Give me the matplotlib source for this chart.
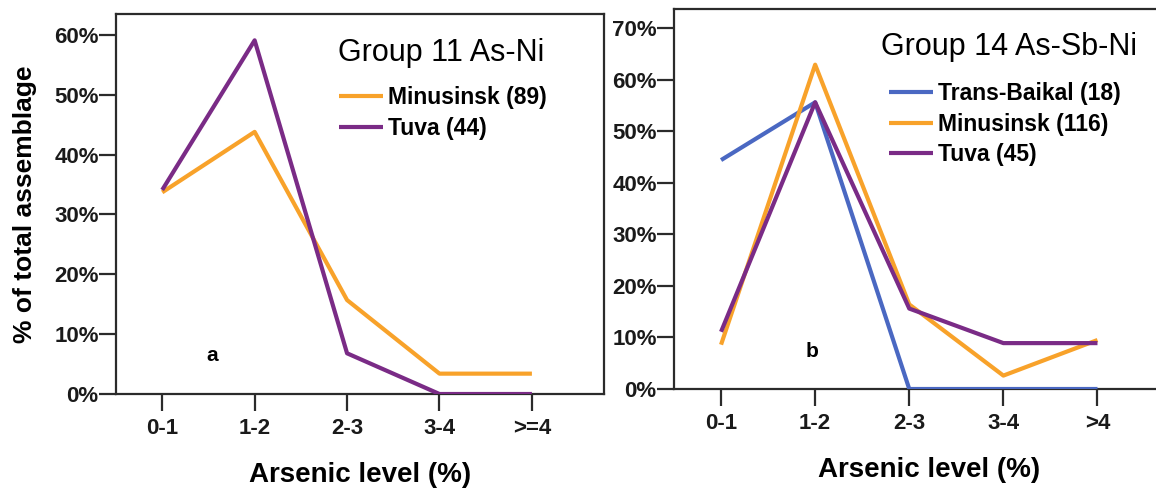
import numpy as np
import matplotlib as mpl
mpl.use('Agg')
from matplotlib import pyplot as plt
from matplotlib.ticker import FuncFormatter

# данные читаются с картинки
levels_a = ['0-1', '1-2', '2-3', '3-4', '>=4']
levels_b = ['0-1', '1-2', '2-3', '3-4', '>4']

minusinsk_a = [33.7, 43.8, 15.7, 3.4, 3.4]
tuva_a = [34.1, 59.1, 6.8, 0.0, 0.0]

transbaikal_b = [44.4, 55.6, 0.0, 0.0, 0.0]
minusinsk_b = [8.6, 62.9, 16.4, 2.6, 9.5]
tuva_b = [11.1, 55.6, 15.6, 8.9, 8.9]

ORANGE = '#f8a22a'
PURPLE = '#7a2b86'
BLUE = '#4a68c2'
DARK = '#2b2b2b'

SANS = ['Liberation Sans', 'DejaVu Sans']

W, H = 1156, 491
fig = plt.figure(figsize=(W / 100, H / 100), dpi=100)


def px_axes(x0, y0, x1, y1):
    ''' оси по пиксельным координатам картинки '''
    return fig.add_axes([x0 / W, 1 - y1 / H, (x1 - x0) / W, (y1 - y0) / H])


def fx(px):
    return px / W


def fy(py):
    return 1 - py / H


def style(ax, labels, ymax, ystep):
    for s in ax.spines.values():
        s.set_color(DARK)
        s.set_linewidth(1.6)
    ax.set_ylim(0, ymax)
    ax.set_yticks(np.arange(0, ymax, ystep))
    ax.yaxis.set_major_formatter(FuncFormatter(lambda v, p: '%d%%' % v))
    ax.set_xticks(range(len(labels)))
    ax.set_xticklabels(labels)
    ax.tick_params(axis='both', direction='out', length=12, width=1.6,
                   color=DARK, labelsize=16)
    ax.tick_params(axis='y', pad=0.5)
    ax.tick_params(axis='x', pad=5.5)
    for t in ax.get_xticklabels() + ax.get_yticklabels():
        t.set_family(SANS)
        t.set_weight('bold')
        t.set_color('#1a1a1a')
    ax.set_xlabel('Arsenic level (%)', family=SANS, weight='bold',
                  fontsize=20, labelpad=16)


def legend_block(ax, title, tx, ty, lx, ly):
    fig.text(fx(tx), fy(ty), title, family=SANS, fontsize=22,
             ha='left', va='center')
    ax.legend(loc='upper left', bbox_to_anchor=(fx(lx), fy(ly)),
              bbox_transform=fig.transFigure, frameon=False,
              prop={'family': SANS, 'weight': 'bold', 'size': 16.5},
              handlelength=1.9, handletextpad=0.25, labelspacing=0.33,
              borderpad=0, borderaxespad=0)


# ---- a ----
ax1 = px_axes(116, 14, 604, 394)
x = np.arange(len(levels_a))
ax1.plot(x, minusinsk_a, color=ORANGE, lw=3, label='Minusinsk (89)',
         solid_capstyle='butt', zorder=3)
ax1.plot(x, tuva_a, color=PURPLE, lw=3, label='Tuva (44)',
         solid_capstyle='butt', zorder=4)
ax1.set_xlim(-0.5, 4.78)
style(ax1, levels_a, 63.5, 10)
ax1.set_ylabel('% of total assemblage', family=SANS, weight='bold',
               fontsize=19, labelpad=12)
ax1.text(0.54, 6.5, 'a', family=SANS, weight='bold', fontsize=15,
         ha='center', va='center')
legend_block(ax1, 'Group 11 As-Ni', 338, 53, 339, 86)

# ---- b ----
ax2 = px_axes(674, 9, 1185, 389)
x = np.arange(len(levels_b))
ax2.plot(x, transbaikal_b, color=BLUE, lw=3, label='Trans-Baikal (18)',
         solid_capstyle='butt', zorder=3)
ax2.plot(x, minusinsk_b, color=ORANGE, lw=3, label='Minusinsk (116)',
         solid_capstyle='butt', zorder=3)
ax2.plot(x, tuva_b, color=PURPLE, lw=3, label='Tuva (45)',
         solid_capstyle='butt', zorder=4)
ax2.set_xlim(-0.5, 4.93)
style(ax2, levels_b, 73.7, 10)
ax2.text(0.97, 7.2, 'b', family=SANS, weight='bold', fontsize=15,
         ha='center', va='center')
legend_block(ax2, 'Group 14 As-Sb-Ni', 881, 47, 889, 82)

fig.savefig('out.png', dpi=100)
